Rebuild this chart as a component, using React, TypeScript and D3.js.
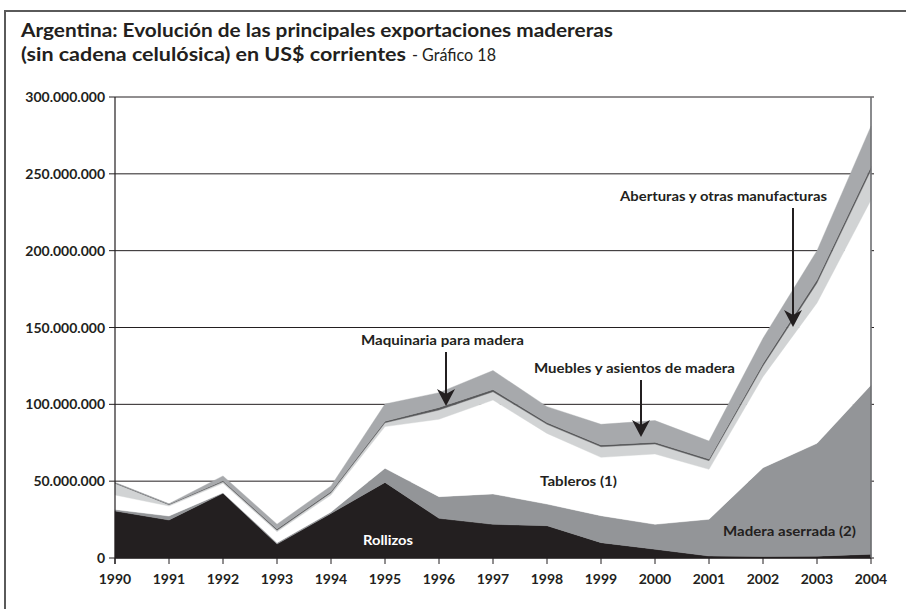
import React from 'react';
import * as d3 from 'd3';

const years = [1990, 1991, 1992, 1993, 1994, 1995, 1996, 1997, 1998, 1999, 2000, 2001, 2002, 2003, 2004];
// values in millions of US$
const rollizos = [30.6, 24.7, 42.1, 9.1, 29, 49.2, 25.8, 21.9, 21, 10, 5.7, 1.3, 1, 1.2, 2.5];
const maderaAserrada = [0.9, 2.6, 0.4, 0.9, 1, 9.2, 14.1, 19.8, 14.1, 17.5, 16.2, 23.9, 57.8, 73.4, 110.1];
const tableros = [9.5, 6.5, 6.1, 7.1, 11, 27.1, 50.4, 61.1, 46, 38, 45.8, 32.5, 59.2, 91.4, 120.4];
const aberturas = [7.6, 0.9, 1.0, 1.0, 1.5, 2.5, 6.0, 5.4, 5.9, 6.9, 6.5, 5.6, 7, 13, 19.5];
const maquinaria = [0.3, 0.3, 0.7, 0.8, 0.8, 1, 1.7, 1.4, 1.2, 1.2, 1.2, 1.1, 1.6, 2, 2.2];
const muebles = [0.3, 0.3, 3.1, 3.1, 3.6, 11.2, 9.6, 12.4, 10.3, 13.4, 14, 11.7, 16.4, 19, 26.3];

const seriesKeys = ['rollizos', 'maderaAserrada', 'tableros', 'aberturas', 'maquinaria', 'muebles'];
const seriesColors = ['#231f20', '#939598', '#ffffff', '#d1d3d4', '#58595b', '#a7a9ac'];

const yTicks = [0, 50, 100, 150, 200, 250, 300];
const yTickLabels = ['0', '50.000.000', '100.000.000', '150.000.000', '200.000.000', '250.000.000', '300.000.000'];

const titleLine1 = 'Argentina: Evolución de las principales exportaciones madereras';
const titleLine2Bold = '(sin cadena celulósica) en US$ corrientes';
const titleLine2Regular = '- Gráfico 18';

const FONT = 'Lato, "Open Sans", "DejaVu Sans", sans-serif';

export default function App() {
  const W = 906;
  const H = 609;
  const x = d3.scaleLinear().domain([1990, 2004]).range([115, 871]);
  const y = d3.scaleLinear().domain([0, 300]).range([558, 97]);

  const table = years.map((yr, i) => ({
    year: yr,
    rollizos: rollizos[i],
    maderaAserrada: maderaAserrada[i],
    tableros: tableros[i],
    aberturas: aberturas[i],
    maquinaria: maquinaria[i],
    muebles: muebles[i],
  }));
  const stacked = d3.stack<any>().keys(seriesKeys)(table);
  const area = d3
    .area<any>()
    .x((d) => x(d.data.year))
    .y0((d) => y(d[0]))
    .y1((d) => y(d[1]));

  const arrows = [
    { x: 446, y1: 352, tip: 406 },
    { x: 641, y1: 380, tip: 437 },
    { x: 793, y1: 208, tip: 327 },
  ];

  const labels = [
    { text: 'Maquinaria para madera', x: 361, y: 345, w: 163, fill: '#231f20' },
    { text: 'Muebles y asientos de madera', x: 534, y: 373, w: 201, fill: '#231f20' },
    { text: 'Aberturas y otras manufacturas', x: 620, y: 201, w: 207, fill: '#231f20' },
    { text: 'Tableros (1)', x: 540, y: 486, w: 77, fill: '#231f20' },
    { text: 'Madera aserrada (2)', x: 723, y: 536, w: 133, fill: '#231f20' },
    { text: 'Rollizos', x: 363, y: 545, w: 50, fill: '#ffffff' },
  ];

  return (
    <svg
      width={W}
      height={H}
      viewBox={`0 0 ${W} ${H}`}
      style={{ position: 'absolute', left: 0, top: 0, background: '#fff', fontFamily: FONT }}
    >
      <rect x={0} y={0} width={W} height={H} fill="#fff" />
      {/* outer frame */}
      <path d={`M ${W} 11 H 5 V ${H}`} fill="none" stroke="#5a5a5a" strokeWidth={2} />

      {/* title */}
      <text x={21} y={37} fontSize={19} fontWeight={700} fill="#231f20" textLength={592} lengthAdjust="spacingAndGlyphs">
        {titleLine1}
      </text>
      <text x={21} y={61} fontSize={19} fontWeight={700} fill="#231f20" textLength={385} lengthAdjust="spacingAndGlyphs">
        {titleLine2Bold}
      </text>
      <text x={412} y={61} fontSize={18} fontWeight={400} fill="#231f20" textLength={84} lengthAdjust="spacingAndGlyphs">
        {titleLine2Regular}
      </text>

      {/* gridlines */}
      {yTicks.map((t) => (
        <line key={'g' + t} x1={x(1990)} x2={x(2004) + 3} y1={y(t)} y2={y(t)} stroke="#231f20" strokeWidth={1} />
      ))}

      {/* stacked areas */}
      {stacked.map((s, i) => (
        <path
          key={s.key}
          d={area(s) || ''}
          fill={seriesColors[i]}
          stroke={seriesColors[i]}
          strokeWidth={0.4}
        />
      ))}

      {/* right frame */}
      <line x1={x(2004)} x2={x(2004)} y1={y(300)} y2={y(0)} stroke="#6d6e71" strokeWidth={1.6} />

      {/* y axis */}
      <line x1={x(1990)} x2={x(1990)} y1={y(300)} y2={y(0) + 6} stroke="#231f20" strokeWidth={1.2} />
      {yTicks.map((t, i) => (
        <g key={'yt' + t}>
          <line x1={x(1990) - 6} x2={x(1990)} y1={y(t)} y2={y(t)} stroke="#231f20" strokeWidth={1} />
          <text x={105} y={y(t) + 5} textAnchor="end" fontSize={14} fontWeight={700} fill="#231f20">
            {yTickLabels[i]}
          </text>
        </g>
      ))}

      {/* x axis */}
      <line x1={x(1990)} x2={x(2004)} y1={y(0)} y2={y(0)} stroke="#231f20" strokeWidth={1.2} />
      {years.map((yr) => (
        <g key={'xt' + yr}>
          <line x1={x(yr)} x2={x(yr)} y1={y(0)} y2={y(0) + 6} stroke="#231f20" strokeWidth={1} />
          <text x={x(yr)} y={584} textAnchor="middle" fontSize={14} fontWeight={700} fill="#231f20">
            {yr}
          </text>
        </g>
      ))}

      {/* arrows */}
      {arrows.map((a, i) => (
        <g key={'a' + i}>
          <line x1={a.x} x2={a.x} y1={a.y1} y2={a.tip - 10} stroke="#231f20" strokeWidth={2} />
          <path
            d={`M ${a.x} ${a.tip} L ${a.x - 9} ${a.tip - 17} L ${a.x} ${a.tip - 12} L ${a.x + 9} ${a.tip - 17} Z`}
            fill="#231f20"
          />
        </g>
      ))}

      {/* labels */}
      {labels.map((l) => (
        <text
          key={l.text}
          x={l.x}
          y={l.y}
          fontSize={14}
          fontWeight={700}
          fill={l.fill}
          textLength={l.w}
          lengthAdjust="spacingAndGlyphs"
        >
          {l.text}
        </text>
      ))}
    </svg>
  );
}
